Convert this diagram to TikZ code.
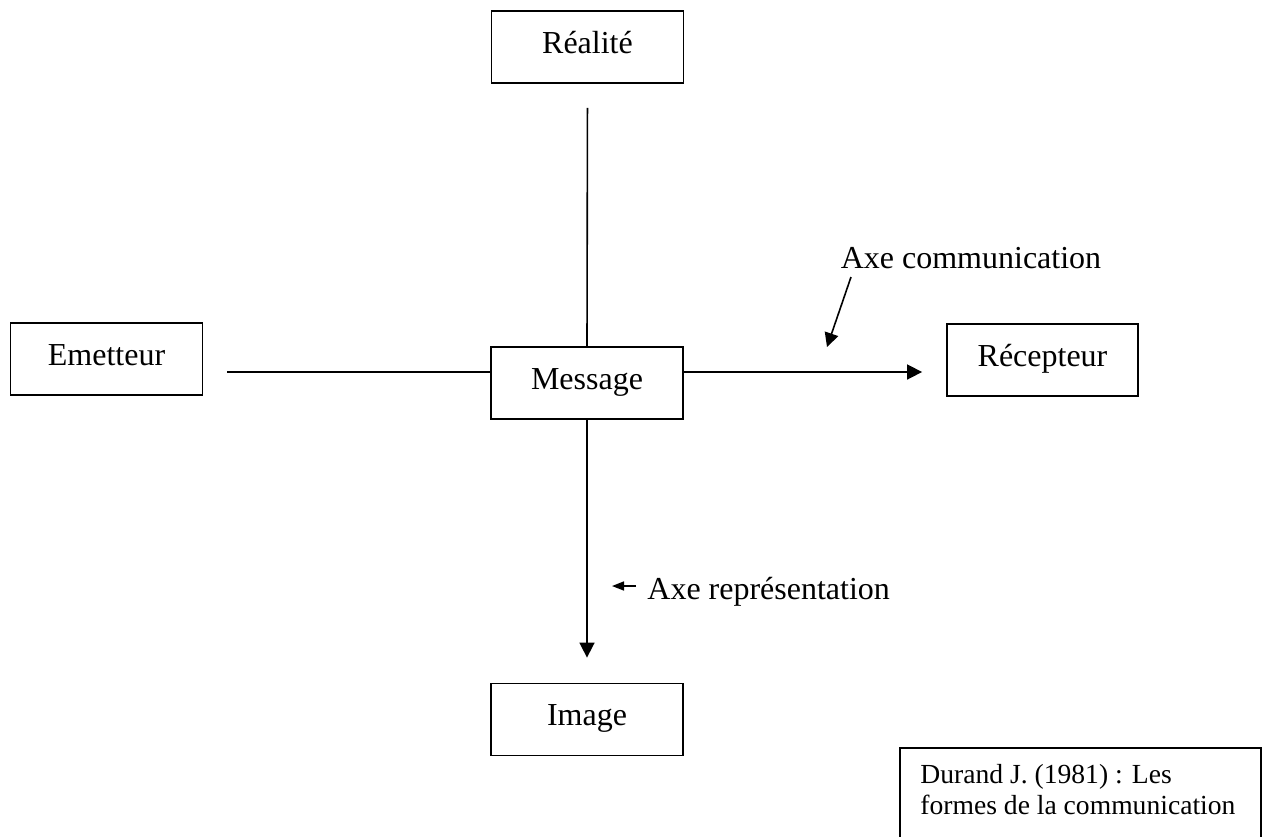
\documentclass[tikz,border=0pt]{standalone}
\usepackage{fontspec}
\setmainfont{Liberation Serif}
\usetikzlibrary{arrows.meta}
\tikzset{
  box/.style={draw, line width=0.9pt, minimum width=96pt, minimum height=36pt, inner sep=0pt, text height=11pt, text depth=5pt, font=\fontsize{16}{19}\selectfont},
  conn/.style={line width=0.8pt},
  arr/.style={conn, -{Triangle[length=7.5pt,width=7.5pt]}},
  lbl/.style={inner sep=0pt, font=\fontsize{16}{19}\selectfont}
}
\begin{document}
\begin{tikzpicture}[x=0.5pt,y=-0.5pt]
\useasboundingbox (0,0) rectangle (1264,836);
\clip (0,0) rectangle (1264,836);
\node[box] (realite) at (587.5,47) {Réalité};
\node[box] (emetteur) at (106.5,359) {Emetteur};
\node[box] (message) at (587,383) {Message};
\node[box, minimum width=95.5pt] (recepteur) at (1042.5,360) {Récepteur};
\node[box] (image) at (587,719.5) {Image};
\node[draw, line width=0.9pt, anchor=north west, minimum width=180.5pt, minimum height=50pt, inner sep=0pt] (durandbox) at (899,747) {};
\node[anchor=north west, inner sep=0pt, align=left, font=\fontsize{13.8}{15.5}\selectfont] (durand) at (920,764) {Durand J. (1981) : Les\\formes de la communication};
\draw[conn, shorten <=12pt] (realite.south) -- (message.north);
\draw[conn, shorten <=12pt] ([yshift=-6.5pt]emetteur.east) -- ([yshift=5.5pt]message.west);
\draw[arr, shorten >=12pt] ([yshift=5.5pt]message.east) -- ([yshift=-6pt]recepteur.west);
\draw[arr, shorten >=12.5pt] (message.south) -- (image.north);
\node[lbl] (axecom) at (971,258) {Axe communication};
\coordinate (comtail) at (851,277);
\coordinate (comtip) at (827,347);
\draw[conn, -{Triangle[length=7pt,width=7pt]}] (comtail) -- (comtip);
\node[lbl, anchor=west] (axerep) at (647,592) {Axe représentation};
\coordinate (reptail) at (636,586);
\coordinate (reptip) at (612,586);
\draw[conn, -{Triangle[length=6pt,width=4.5pt]}] (reptail) -- (reptip);
\end{tikzpicture}
\end{document}
